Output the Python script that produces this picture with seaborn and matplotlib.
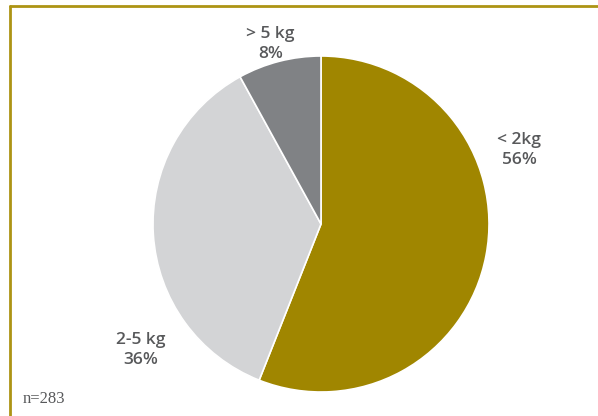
import seaborn as sns
import matplotlib.pyplot as plt
from matplotlib.lines import Line2D

# data
categories = ["< 2kg", "2-5 kg", "> 5 kg"]
shares = [56, 36, 8]
pct_labels = ["56%", "36%", "8%"]
colors = ["#A08600", "#D3D4D6", "#808285"]

sns.set_theme(style="white")
plt.rcParams['font.family'] = ['Open Sans', 'DejaVu Sans']

fig = plt.figure(figsize=(5.98, 4.16), dpi=100)
W, H = 598, 416
cx, cy, r = 321, 224, 168
ax = fig.add_axes([(cx - r) / W, (H - cy - r) / H, 2 * r / W, 2 * r / H])

ax.pie(shares, colors=colors, startangle=90, counterclock=False,
       wedgeprops=dict(edgecolor="white", linewidth=1.2))
ax.set_xlim(-1, 1)
ax.set_ylim(-1, 1)
ax.set_aspect("equal")

# labels placed like in the original
label_pos = [(1.18, 0.44), (-1.07, -0.75), (-0.30, 1.07)]
for cat, pct, (x, y) in zip(categories, pct_labels, label_pos):
    ax.text(x, y, f"{cat}\n{pct}", ha="center", va="center", fontsize=12.5,
            fontweight="semibold", color="#58595B", linespacing=1.35,
            clip_on=False)

# gold frame on top and left
frame_col = "#AD9414"
fig.add_artist(Line2D([0.016, 1], [0.9855, 0.9855], color=frame_col, lw=2,
                      transform=fig.transFigure))
fig.add_artist(Line2D([0.016, 0.016], [0, 0.9855], color=frame_col, lw=2,
                      transform=fig.transFigure))

fig.text(44 / W, 1 - 399 / H, "n=283", ha="center", va="center",
         fontsize=12, color="#58595B", family=["Liberation Serif"])

fig.savefig("out.png", dpi=100)
